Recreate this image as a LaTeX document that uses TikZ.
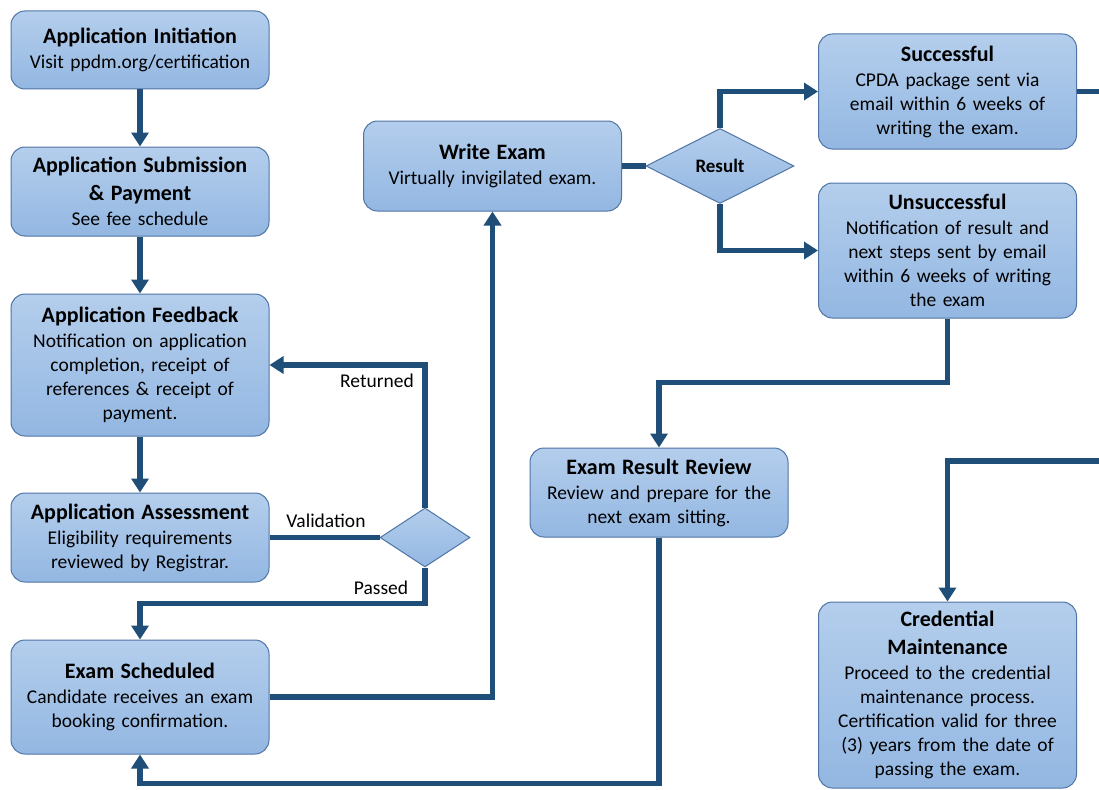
\documentclass[tikz,border=0pt]{standalone}
\usepackage{fontspec}
\setmainfont{Carlito}
\usetikzlibrary{arrows.meta,shapes.geometric,calc}
\definecolor{lineblue}{HTML}{1F4E79}
\definecolor{boxedge}{HTML}{4F74A6}
\definecolor{filltop}{HTML}{B4CEEC}
\definecolor{fillbot}{HTML}{93B7E2}
\tikzset{
  box/.style={rectangle, rounded corners=14pt, draw=boxedge, line width=1pt,
    top color=filltop, bottom color=fillbot, minimum width=258pt, text width=252pt,
    align=center, inner sep=3pt, font=\fontsize{19.5}{24}\selectfont},
  dec/.style={diamond, draw=boxedge, line width=1pt, top color=filltop, bottom color=fillbot,
    inner sep=0pt, font=\fontsize{19}{22}\selectfont\bfseries},
  conn/.style={draw=lineblue, line width=5.5pt, -{Triangle[width=17pt,length=14pt]}},
  plain/.style={draw=lineblue, line width=5.5pt},
  lbl/.style={font=\fontsize{19.5}{22}\selectfont, inner sep=0pt}
}
\newcommand{\ttl}[1]{{\fontsize{22}{28}\selectfont\bfseries #1}}
\begin{document}
\begin{tikzpicture}[x=1pt,y=-1pt]
\useasboundingbox (0,0) rectangle (1099,789);
\node[box, minimum height=78pt] (init) at (140,50) {\ttl{Application Initiation}\\[1pt]Visit ppdm.org/certification};
\node[box, minimum height=89pt] (sub) at (140,191.5) {\ttl{Application Submission}\\[4pt]\ttl{\& Payment}\\[1pt]See fee schedule};
\node[box, minimum height=142pt] (fb) at (140,365) {\ttl{Application Feedback}\\[1pt]Notification on application\\completion, receipt of\\references \& receipt of\\payment.};
\node[box, minimum height=89pt] (as) at (140,537.5) {\ttl{Application Assessment}\\[1pt]Eligibility requirements\\reviewed by Registrar.};
\node[box, minimum height=114pt] (es) at (140,697) {\ttl{Exam Scheduled}\\[1pt]Candidate receives an exam\\booking confirmation.};
\node[box, minimum height=90pt] (we) at (492.5,166) {\ttl{Write Exam}\\[1pt]Virtually invigilated exam.};
\node[dec, minimum width=148pt, minimum height=75pt] (res) at (720,166) {Result};
\node[box, minimum height=115pt] (succ) at (947.5,91.5) {\ttl{Successful}\\[1pt]CPDA package sent via\\email within 6 weeks of\\writing the exam.};
\node[box, minimum height=135pt] (uns) at (947.5,250.5) {\ttl{Unsuccessful}\\[1pt]Notification of result and\\next steps sent by email\\within 6 weeks of writing\\the exam};
\node[box, minimum height=89pt] (err) at (659,492.5) {\ttl{Exam Result Review}\\[1pt]Review and prepare for the\\next exam sitting.};
\node[box, minimum height=186pt] (cm) at (947.5,695) {\ttl{Credential}\\[4pt]\ttl{Maintenance}\\[1pt]Proceed to the credential\\maintenance process.\\Certification valid for three\\(3) years from the date of\\passing the exam.};
\node[dec, minimum width=90pt, minimum height=59pt] (val) at (425,537.5) {};
\coordinate (e1) at (1099,91.5);
\coordinate (e2) at (1099,461);
% connectors
\draw[conn] (init) -- (sub);
\draw[conn] (sub) -- (fb);
\draw[conn] (fb) -- (as);
\draw[plain] (as.east) -- (val.west);
\draw[conn] (val.north) |- (fb.east);
\draw[conn] (val.south) -- ++(0,36) -| (es.north);
\draw[conn] (es.east) -| (we.south);
\draw[plain] (we.east) -- (res.west);
\draw[conn] (res.north) |- (succ.west);
\draw[conn] (res.south) |- (uns.west);
\draw[plain] (succ.east) -- (e1);
\draw[conn] (uns.south) -- ++(0,64) -| (err.north);
\draw[conn] (err.south) -- ++(0,246) -| (es.south);
\draw[conn] (e2) -| (cm.north);
% labels
\node[lbl] (lv) at (326,521) {Validation};
\node[lbl] (lr) at (377,381) {Returned};
\node[lbl] (lp) at (381,588) {Passed};
\end{tikzpicture}
\end{document}
